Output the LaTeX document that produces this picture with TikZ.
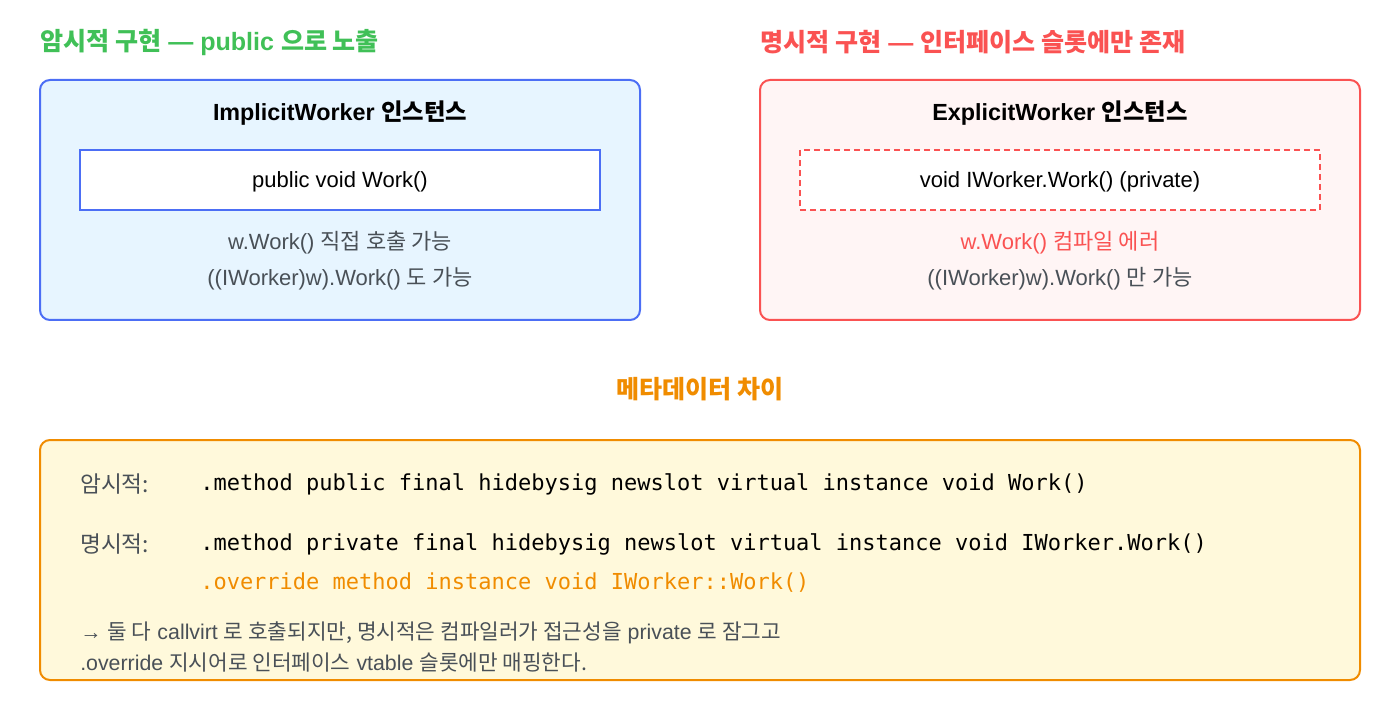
\documentclass[tikz,border=0pt]{standalone}
\usepackage{fontspec}
\setmainfont{Liberation Sans}
\setmonofont{DejaVu Sans Mono}
\newfontfamily\kr{Noto Sans CJK KR}
\usetikzlibrary{calc}
\definecolor{implgreen}{HTML}{40C057}
\definecolor{implblue}{HTML}{4C6EF5}
\definecolor{implfill}{HTML}{E7F5FF}
\definecolor{explred}{HTML}{FA5252}
\definecolor{explfill}{HTML}{FFF5F5}
\definecolor{metaorange}{HTML}{F08C00}
\definecolor{metafill}{HTML}{FFF9DB}
\definecolor{notegray}{HTML}{495057}
\tikzset{
	panel/.style={draw,line width=1.5pt,rounded corners=7.5pt,minimum width=450pt,minimum height=180pt},
	slot/.style={draw,fill=white,line width=1.5pt,minimum width=390pt,minimum height=45pt,font=\fontsize{16.5}{20}\selectfont},
	caption/.style={anchor=west,inner sep=0pt,font=\fontsize{18.8}{22}\selectfont\bfseries},
	heading/.style={font=\fontsize{17.5}{21}\selectfont\bfseries},
	remark/.style={text=notegray,font=\fontsize{16.5}{20}\selectfont},
	il/.style={anchor=west,inner sep=0pt,font=\fontsize{16.5}{20}\selectfont\ttfamily},
	label/.style={anchor=west,inner sep=0pt,text=notegray,font=\fontsize{17}{20}\selectfont},
	note/.style={anchor=west,inner sep=0pt,text=notegray,font=\fontsize{16}{19}\selectfont}
}

\begin{document}
\begin{tikzpicture}[x=0.75pt,y=-0.75pt]
	\useasboundingbox (0,0) rectangle (1400,720);
	% titles
	\node[caption,text=implgreen] (impltitle) at (40,42) {{\kr 암시적 구현} — public {\kr 으로 노출}};
	\node[caption,text=explred] (expltitle) at (760,42) {{\kr 명시적 구현} — {\kr 인터페이스 슬롯에만 존재}};
	% implicit side
	\node[panel,draw=implblue,fill=implfill] (implbox) at (340,200) {};
	\node[heading] (implhead) at (340,113) {ImplicitWorker {\kr 인스턴스}};
	\node[slot,draw=implblue] (implslot) at (340,180) {};
	\node (implsig) at (340,182) {\fontsize{16.5}{20}\selectfont public void Work()};
	\node[remark] (implcall1) at (340,243) {w.Work() {\kr 직접 호출 가능}};
	\node[remark] (implcall2) at (340,279) {((IWorker)w).Work() {\kr 도 가능}};
	% explicit side
	\node[panel,draw=explred,fill=explfill] (explbox) at (1060,200) {};
	\node[heading] (explhead) at (1060,113) {ExplicitWorker {\kr 인스턴스}};
	\node[slot,draw=explred,dash pattern=on 4.5pt off 3pt] (explslot) at (1060,180) {};
	\node (explsig) at (1060,182) {\fontsize{16.5}{20}\selectfont void IWorker.Work() (private)};
	\node[remark,text=explred] (explcall1) at (1060,243) {w.Work() {\kr 컴파일 에러}};
	\node[remark] (explcall2) at (1060,279) {((IWorker)w).Work() {\kr 만 가능}};
	% metadata
	\node[caption,anchor=center,text=metaorange] (metatitle) at (700,389) {\kr 메타데이터 차이};
	\node[panel,draw=metaorange,fill=metafill,minimum width=990pt] (metabox) at (700,560) {};
	\node[label] (impllabel) at (80,484) {\kr 암시적:};
	\node[il] (implil) at (200,484) {.method public final hidebysig newslot virtual instance void Work()};
	\node[label] (expllabel) at (80,544) {\kr 명시적:};
	\node[il] (explil) at (200,544) {.method private final hidebysig newslot virtual instance void IWorker.Work()};
	\node[il,text=metaorange] (explover) at (200,583) {.override method instance void IWorker::Work()};
	\node[note] (note1) at (80,633) {→ {\kr 둘 다} callvirt {\kr 로 호출되지만, 명시적은 컴파일러가 접근성을} private {\kr 로 잠그고}};
	\node[note] (note2) at (80,663) {.override {\kr 지시어로 인터페이스} vtable {\kr 슬롯에만 매핑한다.}};
\end{tikzpicture}
\end{document}
